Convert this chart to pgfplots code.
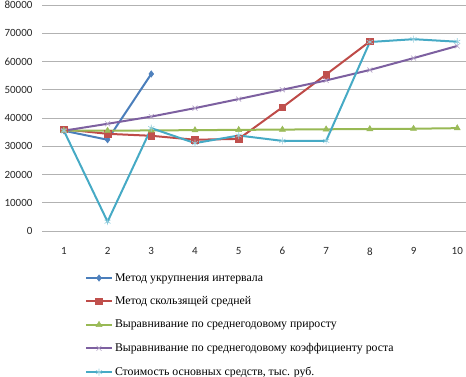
\documentclass[border=0pt]{standalone}
\usepackage{fontspec}
\setmainfont{Liberation Serif}
\newfontfamily\carlito{Carlito}
\usepackage{pgfplots}
\pgfplotsset{compat=1.18}
\definecolor{cBlue}{HTML}{4A7EBB}
\definecolor{cBlueF}{HTML}{4F81BD}
\definecolor{cRed}{HTML}{BE4B48}
\definecolor{cRedF}{HTML}{C0504D}
\definecolor{cGreen}{HTML}{98B954}
\definecolor{cGreenF}{HTML}{9BBB59}
\definecolor{cPurple}{HTML}{7D60A0}
\definecolor{cPurpleM}{HTML}{B3A2C7}
\definecolor{cCyan}{HTML}{46AAC5}
\definecolor{cCyanM}{HTML}{93CDDD}
\begin{document}
\begin{tikzpicture}
\begin{axis}[
  name=ax,
  scale only axis,
  width=424pt, height=226pt,
  xmin=0.5, xmax=10.2,
  ymin=0, ymax=80000,
  xtick={1,...,10},
  ytick={0,10000,...,80000},
  scaled y ticks=false,
  axis line style={draw=none},
  ymajorgrids,
  grid style={draw=black!30, line width=0.8pt},
  major tick length=0pt,
  /pgf/number format/assume math mode=true,
  /pgf/number format/1000 sep={},
  tick label style={font=\carlito\fontsize{11}{13}\selectfont, text=black!85},
  xticklabel style={yshift=-13pt},
  yticklabel style={xshift=-6pt},
  clip=false,
  legend cell align=left,
  legend style={draw=none, fill=none, at={(rel axis cs:0.101,-0.178)}, anchor=north west,
    font=\fontsize{11.8}{13}\selectfont, row sep=10pt, inner sep=0pt,
    /tikz/every even column/.append style={column sep=3pt}},
  legend image code/.code={\draw[mark repeat=2,mark phase=2,#1] plot coordinates {(0pt,0pt) (13pt,0pt) (26pt,0pt)};},
]
\addplot[cBlue, line width=2pt, mark=diamond*, mark size=3.2pt, mark options={fill=cBlueF, draw=cBlueF, line width=0.5pt}]
  coordinates {(1,35500) (2,32300) (3,55600)};
\addlegendentry{Метод укрупнения интервала}
\addplot[cRed, line width=2pt, mark=square*, mark size=3.3pt, mark options={fill=cRedF, draw=cRedF, line width=0.5pt}]
  coordinates {(1,36000) (2,34400) (3,33700) (4,32300) (5,32600) (6,43800) (7,55400) (8,67100)};
\addlegendentry{Метод скользящей средней}
\addplot[cGreen, line width=2pt, mark=triangle*, mark size=3.5pt, mark options={fill=cGreenF, draw=cGreenF, line width=0.5pt}]
  coordinates {(1,35500) (2,35500) (3,35600) (4,35700) (5,35800) (6,35900) (7,36000) (8,36100) (9,36200) (10,36400)};
\addlegendentry{Выравнивание по среднегодовому приросту}
\addplot[cPurple, line width=2pt, mark=x, mark size=3.5pt, mark options={draw=cPurpleM, line width=0.6pt}]
  coordinates {(1,35500) (2,37950) (3,40500) (4,43500) (5,46700) (6,50000) (7,53300) (8,57000) (9,61200) (10,65500)};
\addlegendentry{Выравнивание по среднегодовому коэффициенту роста}
\addplot[cCyan, line width=2pt, mark=asterisk, mark size=3.5pt, mark options={draw=cCyanM, line width=0.6pt}]
  coordinates {(1,35500) (2,3300) (3,36400) (4,31100) (5,33800) (6,31900) (7,31900) (8,66900) (9,67900) (10,67000)};
\addlegendentry{Стоимость основных средств, тыс. руб.}
\end{axis}
\pgfresetboundingbox
\path[use as bounding box] ([shift={(-42pt,-146pt)}]ax.south west) rectangle ([shift={(0pt,5pt)}]ax.north east);
\end{tikzpicture}
\end{document}
